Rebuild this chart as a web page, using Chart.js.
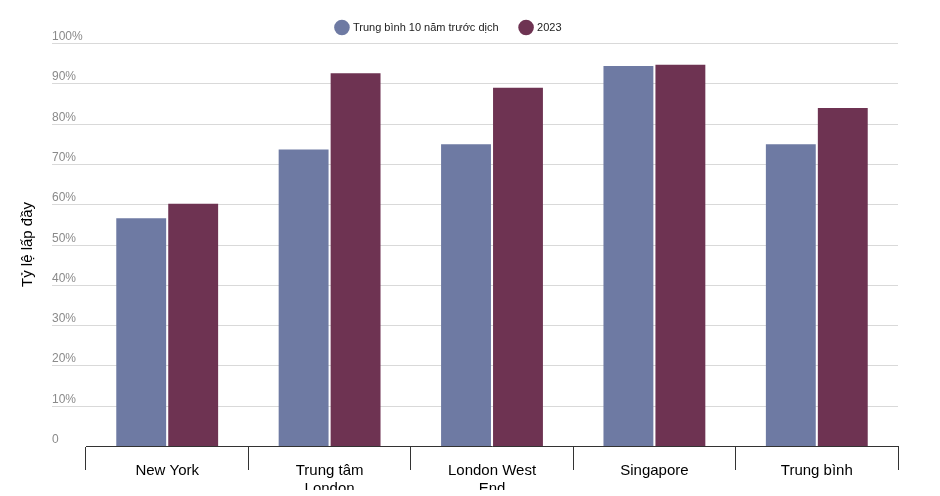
<!DOCTYPE html>
<html><head><meta charset="utf-8">
<script src="https://cdn.jsdelivr.net/npm/chart.js@4"></script>
<style>body{margin:0;background:#fff}#w{width:940px;height:496px}</style>
</head><body><div id="w"><canvas id="c"></canvas></div>
<script>
const categories=[["New York"],["Trung tâm","London"],["London West","End"],["Singapore"],["Trung bình"]];
const preCovid=[56.5,73.6,74.9,94.3,74.9];
const y2023=[60.1,92.5,88.9,94.6,83.9];
const yTicks=[0,10,20,30,40,50,60,70,80,90,100];
const seriesNames=["Trung bình 10 năm trước dịch","2023"];
const yPlugin={id:'yp',beforeDatasetsDraw(ch){const c=ch.ctx,y=ch.scales.y;c.save();
c.strokeStyle='#d9d9d9';c.lineWidth=1;c.fillStyle='#8a8a8a';c.font='12px "Liberation Sans",Arial';c.textBaseline='bottom';c.textAlign='left';
yTicks.forEach(v=>{const p=Math.round(y.getPixelForValue(v))+0.5;if(v>0){c.beginPath();c.moveTo(52,p);c.lineTo(ch.chartArea.right,p);c.stroke();}
c.fillText(v===0?'0':v+'%',52,p-1);});
c.save();c.translate(28,(ch.chartArea.top+ch.chartArea.bottom)/2);c.rotate(-Math.PI/2);c.textAlign='center';c.textBaseline='middle';c.fillStyle='#000';c.font='15px "Liberation Sans",Arial';c.fillText('Tỷ lệ lấp đầy',0,0);c.restore();
c.restore();}};
new Chart(document.getElementById('c'),{type:'bar',
data:{labels:categories,datasets:[
{label:seriesNames[0],data:preCovid,backgroundColor:'#6e7aa3'},
{label:seriesNames[1],data:y2023,backgroundColor:'#6e3352'}]},
options:{responsive:true,maintainAspectRatio:false,animation:false,
layout:{padding:{right:42,top:0,bottom:6}},
categoryPercentage:0.64,barPercentage:0.96,
plugins:{legend:{position:'top',labels:{usePointStyle:true,pointStyle:'circle',boxWidth:16,boxHeight:16,padding:22,color:'#222',font:{size:11,family:'"Liberation Sans",Arial'}}},tooltip:{enabled:false}},
scales:{
y:{min:0,max:100,grid:{display:false},border:{display:false},ticks:{display:false},afterFit(s){s.width=86;}},
x:{offset:true,grid:{offset:true,drawOnChartArea:false,tickLength:24,color:'#333'},border:{color:'#333'},ticks:{color:'#000',padding:-8,font:{size:15,family:'"Liberation Sans",Arial'}}}
}},plugins:[yPlugin]});
</script></body></html>
